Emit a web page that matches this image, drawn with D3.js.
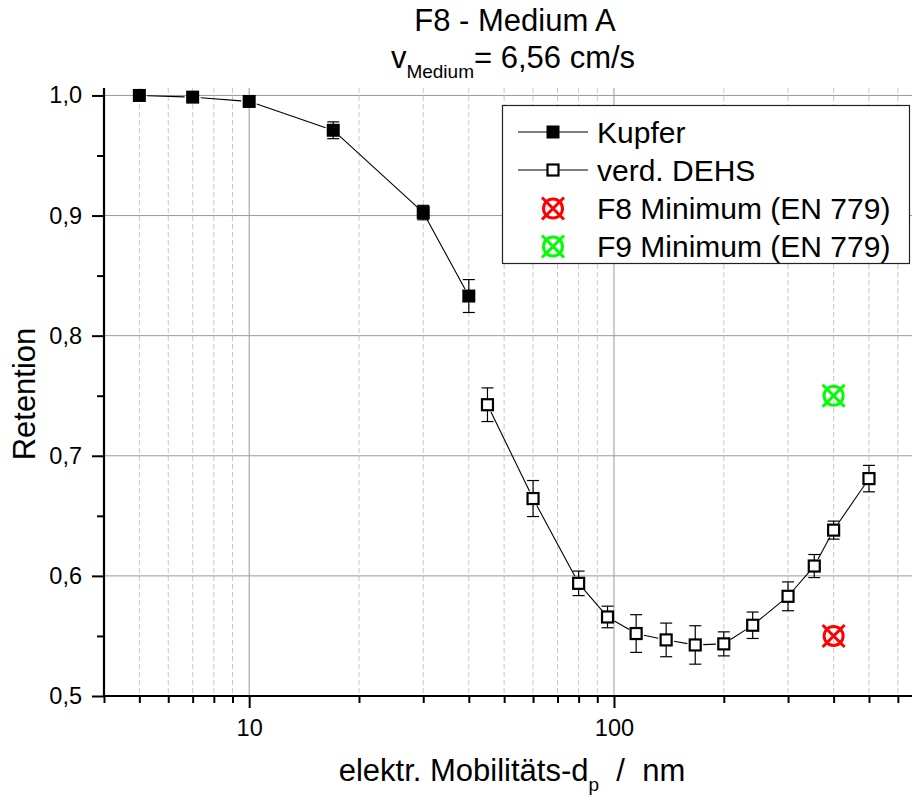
<!DOCTYPE html>
<html>
<head>
<meta charset="utf-8">
<script src="https://cdn.jsdelivr.net/npm/d3@7"></script>
<style>
  body { margin: 0; background: #fff; }
  svg { display: block; font-family: "Liberation Sans", Arimo, Arial, Helvetica, sans-serif; }
</style>
</head>
<body>
<svg id="chart" width="912" height="796"></svg>
<script>
// ---- Data ----
const kupferX   = [5, 7, 10, 17, 30, 40];
const kupferY   = [1.000, 0.9986, 0.995, 0.971, 0.9025, 0.833];
const kupferErr = [0.001, 0.001, 0.002, 0.007, 0.006, 0.0137];

const dehsX   = [45, 60, 80, 96, 115, 139, 167, 200, 240, 300, 354, 400, 500];
const dehsY   = [0.7425, 0.6644, 0.5938, 0.5658, 0.552, 0.5467, 0.5425, 0.5434, 0.5589, 0.583, 0.6082, 0.6381, 0.681];
const dehsErr = [0.014, 0.015, 0.0102, 0.009, 0.0157, 0.014, 0.016, 0.010, 0.011, 0.012, 0.0096, 0.0075, 0.011];

const minF8 = {x: 400, y: 0.55};
const minF9 = {x: 400, y: 0.75};

const yMajorTicks = [0.5, 0.6, 0.7, 0.8, 0.9, 1.0];
const yMinorTicks = [0.55, 0.65, 0.75, 0.85, 0.95];
const xMajorTicks = [10, 100];
const xMinorTicks = [5, 6, 7, 8, 9, 20, 30, 40, 50, 60, 70, 80, 90, 200, 300, 400, 500, 600];

const legendLabels = ["Kupfer", "verd. DEHS", "F8 Minimum (EN 779)", "F9 Minimum (EN 779)"];

// ---- Layout ----
const svg = d3.select("#chart");
const pLeft = 104, pRight = 912, pTop = 88, pBottom = 696;
const FONT = '"Liberation Sans", Arimo, Arial, Helvetica, sans-serif';

const x = d3.scaleLog().domain([4, 656]).range([pLeft, pRight]);
const y = d3.scaleLinear().domain([0.5, 1.0062]).range([pBottom, pTop]);

const fmt = d => d3.format(".1f")(d).replace(".", ",");

// ---- Grid ----
const grid = svg.append("g");
grid.selectAll(".vminor").data(xMinorTicks).join("line")
  .attr("x1", d => x(d)).attr("x2", d => x(d))
  .attr("y1", pTop).attr("y2", pBottom)
  .attr("stroke", "#c8c8c8").attr("stroke-width", 1).attr("stroke-dasharray", "5,3");
grid.selectAll(".vmajor").data(xMajorTicks).join("line")
  .attr("x1", d => x(d)).attr("x2", d => x(d))
  .attr("y1", pTop).attr("y2", pBottom)
  .attr("stroke", "#999").attr("stroke-width", 1);
grid.selectAll(".hmajor").data(yMajorTicks).join("line")
  .attr("x1", pLeft).attr("x2", pRight)
  .attr("y1", d => y(d)).attr("y2", d => y(d))
  .attr("stroke", "#999").attr("stroke-width", 1);

// ---- Axes ----
const xAxisMajor = d3.axisBottom(x).tickValues(xMajorTicks).tickSize(12).tickPadding(11).tickFormat(d3.format("d"));
const xAxisMinor = d3.axisBottom(x).tickValues(xMinorTicks.concat([4])).tickSize(7).tickFormat("");
const yAxisMajor = d3.axisLeft(y).tickValues(yMajorTicks).tickSize(12).tickPadding(10).tickFormat(fmt);
const yAxisMinor = d3.axisLeft(y).tickValues(yMinorTicks).tickSize(7).tickFormat("");

function styleAxis(g) {
  g.select(".domain").remove();
  g.selectAll(".tick line").attr("stroke", "#000").attr("stroke-width", 2);
  g.selectAll(".tick text").attr("fill", "#000").style("font-size", "23.5px")
    .style("font-family", FONT);
}
svg.append("g").attr("transform", `translate(0,${pBottom})`).call(xAxisMinor).call(styleAxis);
svg.append("g").attr("transform", `translate(0,${pBottom})`).call(xAxisMajor).call(styleAxis);
svg.append("g").attr("transform", `translate(${pLeft},0)`).call(yAxisMinor).call(styleAxis);
svg.append("g").attr("transform", `translate(${pLeft},0)`).call(yAxisMajor).call(styleAxis);

svg.append("line").attr("x1", pLeft).attr("x2", pRight).attr("y1", pBottom).attr("y2", pBottom)
  .attr("stroke", "#000").attr("stroke-width", 2.2);
svg.append("line").attr("x1", pLeft).attr("x2", pLeft).attr("y1", pTop).attr("y2", pBottom + 1)
  .attr("stroke", "#000").attr("stroke-width", 2.2);

// ---- Series ----
function drawSeries(xs, ys, errs, filled) {
  const g = svg.append("g");
  const pts = xs.map((d, i) => ({px: x(d), py: y(ys[i]), e: errs[i], v: ys[i]}));
  const gap = 8;
  for (let i = 0; i < pts.length - 1; i++) {
    const a = pts[i], b = pts[i + 1];
    const dx = b.px - a.px, dy = b.py - a.py, len = Math.hypot(dx, dy);
    if (len <= 2 * gap) continue;
    const ux = dx / len, uy = dy / len;
    g.append("line")
      .attr("x1", a.px + ux * gap).attr("y1", a.py + uy * gap)
      .attr("x2", b.px - ux * gap).attr("y2", b.py - uy * gap)
      .attr("stroke", "#000").attr("stroke-width", 1.1);
  }
  const eb = g.selectAll(".eb").data(pts).join("g");
  eb.append("line").attr("x1", d => d.px).attr("x2", d => d.px)
    .attr("y1", d => y(d.v + d.e)).attr("y2", d => y(d.v - d.e))
    .attr("stroke", "#000").attr("stroke-width", 1.2);
  eb.append("line").attr("x1", d => d.px - 6).attr("x2", d => d.px + 6)
    .attr("y1", d => y(d.v + d.e)).attr("y2", d => y(d.v + d.e))
    .attr("stroke", "#000").attr("stroke-width", 1.2);
  eb.append("line").attr("x1", d => d.px - 6).attr("x2", d => d.px + 6)
    .attr("y1", d => y(d.v - d.e)).attr("y2", d => y(d.v - d.e))
    .attr("stroke", "#000").attr("stroke-width", 1.2);
  if (filled) {
    g.selectAll(".m").data(pts).join("rect")
      .attr("x", d => d.px - 6.5).attr("y", d => d.py - 6.5)
      .attr("width", 13).attr("height", 13).attr("fill", "#000");
  } else {
    g.selectAll(".m").data(pts).join("rect")
      .attr("x", d => d.px - 5.5).attr("y", d => d.py - 5.5)
      .attr("width", 11).attr("height", 11).attr("fill", "#fff")
      .attr("stroke", "#000").attr("stroke-width", 2.2);
  }
}
drawSeries(kupferX, kupferY, kupferErr, true);
drawSeries(dehsX, dehsY, dehsErr, false);

function crossCircle(g, cx, cy, color) {
  g.append("circle").attr("cx", cx).attr("cy", cy).attr("r", 9.5)
    .attr("fill", "none").attr("stroke", color).attr("stroke-width", 3);
  const s = 11;
  g.append("line").attr("x1", cx - s).attr("y1", cy - s).attr("x2", cx + s).attr("y2", cy + s)
    .attr("stroke", color).attr("stroke-width", 3);
  g.append("line").attr("x1", cx - s).attr("y1", cy + s).attr("x2", cx + s).attr("y2", cy - s)
    .attr("stroke", color).attr("stroke-width", 3);
}
const minG = svg.append("g");
crossCircle(minG, x(minF8.x), y(minF8.y), "#ff0000");
crossCircle(minG, x(minF9.x), y(minF9.y), "#00ff00");

// ---- Legend ----
const lg = svg.append("g");
lg.append("rect").attr("x", 502.5).attr("y", 105.5).attr("width", 407).attr("height", 158)
  .attr("fill", "#fff").attr("stroke", "#222").attr("stroke-width", 1.2);
const rowY = [132, 170, 208.5, 246.5];
const symX = 553;
legendLabels.forEach((lab, i) => {
  const cy = rowY[i];
  if (i < 2) {
    lg.append("line").attr("x1", 518).attr("x2", 588).attr("y1", cy).attr("y2", cy)
      .attr("stroke", "#000").attr("stroke-width", 1.1);
    if (i === 0) {
      lg.append("rect").attr("x", symX - 6.5).attr("y", cy - 6.5).attr("width", 13).attr("height", 13).attr("fill", "#000");
    } else {
      lg.append("rect").attr("x", symX - 5.5).attr("y", cy - 5.5).attr("width", 11).attr("height", 11)
        .attr("fill", "#fff").attr("stroke", "#000").attr("stroke-width", 2.2);
    }
  } else {
    crossCircle(lg, symX, cy, i === 2 ? "#ff0000" : "#00ff00");
  }
  lg.append("text").attr("x", 597).attr("y", cy + 10.5).style("font-size", "30px")
    .attr("fill", "#000").text(lab);
});

// ---- Titles ----
svg.append("text").attr("x", 515).attr("y", 31).attr("text-anchor", "middle")
  .style("font-size", "31px").text("F8 - Medium A");
const t2 = svg.append("text").attr("x", 513).attr("y", 68).attr("text-anchor", "middle")
  .style("font-size", "31px");
t2.append("tspan").text("v");
t2.append("tspan").attr("dy", 10).style("font-size", "19px").text("Medium");
t2.append("tspan").attr("dy", -10).text("= 6,56 cm/s");

const xl = svg.append("text").attr("x", 512).attr("y", 781).attr("text-anchor", "middle")
  .style("font-size", "31px").style("white-space", "pre");
xl.append("tspan").text("elektr. Mobilitäts-d");
xl.append("tspan").attr("dy", 10).style("font-size", "19px").text("p");
xl.append("tspan").attr("dy", -10).text("  /  nm");

svg.append("text").attr("transform", "translate(35,394) rotate(-90)").attr("text-anchor", "middle")
  .style("font-size", "31px").text("Retention");
</script>
</body>
</html>
